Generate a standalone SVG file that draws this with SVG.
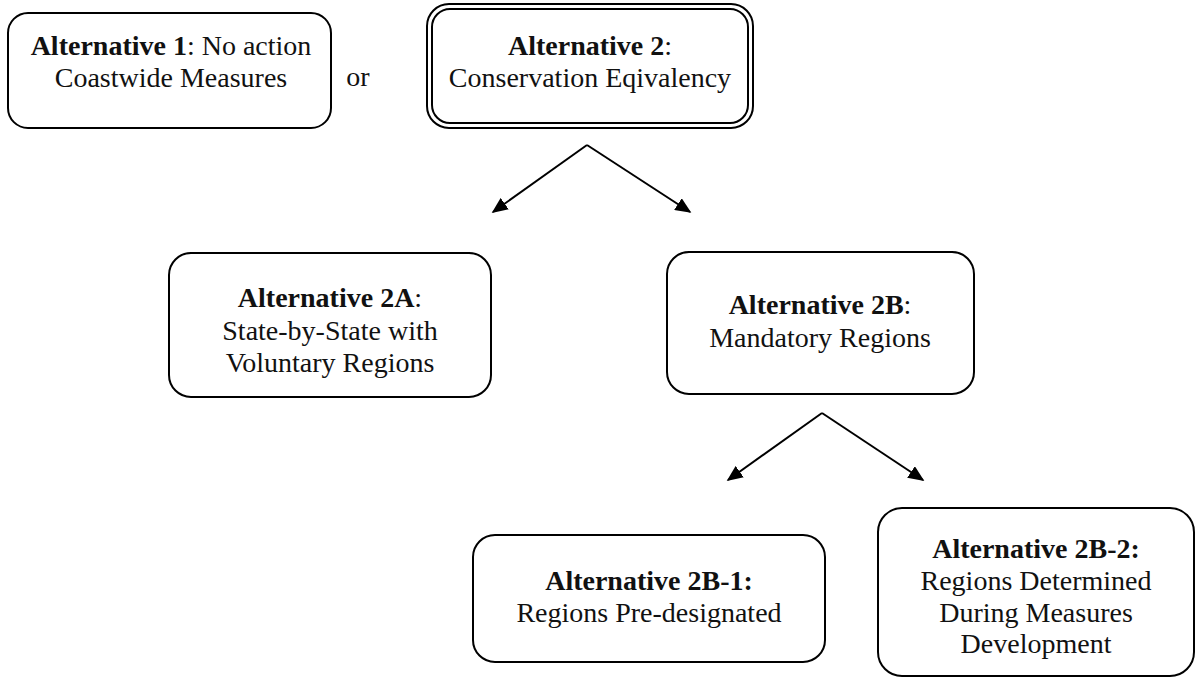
<svg xmlns="http://www.w3.org/2000/svg" width="1198" height="679" viewBox="0 0 1198 679">
<style>
.box{fill:#fff;stroke:#000;stroke-width:2}
.t{font-family:'Liberation Serif','Times New Roman','DejaVu Serif',serif;font-size:28px;fill:#111;text-anchor:middle}
.b{font-weight:bold}
.c{stroke:#000;stroke-width:2;fill:none}
</style>
<defs>
<marker id="ah" viewBox="0 0 10 10" refX="9" refY="5" markerWidth="16" markerHeight="14" markerUnits="userSpaceOnUse" orient="auto" preserveAspectRatio="none">
<path d="M0,0 L10,5 L0,10 z" fill="#000"/>
</marker>
</defs>
<rect width="1198" height="679" fill="#fff"/>
<g id="alt1">
<rect class="box" x="8" y="13" width="323" height="115" rx="20"/>
<text class="t" x="171" y="55"><tspan class="b">Alternative 1</tspan>: No action</text>
<text class="t" x="171" y="87">Coastwide Measures</text>
</g>
<g id="or">
<text class="t" x="358" y="86">or</text>
</g>
<g id="alt2">
<rect class="box" x="427" y="4" width="326" height="124" rx="22"/>
<rect class="box" x="432" y="9" width="316" height="114" rx="18"/>
<text class="t" x="590" y="55"><tspan class="b">Alternative 2</tspan>:</text>
<text class="t" x="590" y="87">Conservation Eqivalency</text>
</g>
<g id="alt2a">
<rect class="box" x="169" y="253" width="322" height="144" rx="22"/>
<text class="t" x="330" y="307"><tspan class="b">Alternative 2A</tspan>:</text>
<text class="t" x="330" y="340">State-by-State with</text>
<text class="t" x="330" y="372">Voluntary Regions</text>
</g>
<g id="alt2b">
<rect class="box" x="667" y="252" width="307" height="142" rx="22"/>
<text class="t" x="820" y="314"><tspan class="b">Alternative 2B</tspan>:</text>
<text class="t" x="820" y="347">Mandatory Regions</text>
</g>
<g id="alt2b1">
<rect class="box" x="473" y="535" width="352" height="127" rx="22"/>
<text class="t" x="649" y="590"><tspan class="b">Alternative 2B-1:</tspan></text>
<text class="t" x="649" y="622">Regions Pre-designated</text>
</g>
<g id="alt2b2">
<rect class="box" x="878" y="508" width="316" height="168" rx="24"/>
<text class="t" x="1036" y="558"><tspan class="b">Alternative 2B-2:</tspan></text>
<text class="t" x="1036" y="590">Regions Determined</text>
<text class="t" x="1036" y="622">During Measures</text>
<text class="t" x="1036" y="653">Development</text>
</g>
<g id="connectors">
<path class="c" d="M587,145 L493,212" marker-end="url(#ah)"/>
<path class="c" d="M587,145 L690,212" marker-end="url(#ah)"/>
<path class="c" d="M822,413 L728,480" marker-end="url(#ah)"/>
<path class="c" d="M822,413 L923,480" marker-end="url(#ah)"/>
</g>
</svg>
